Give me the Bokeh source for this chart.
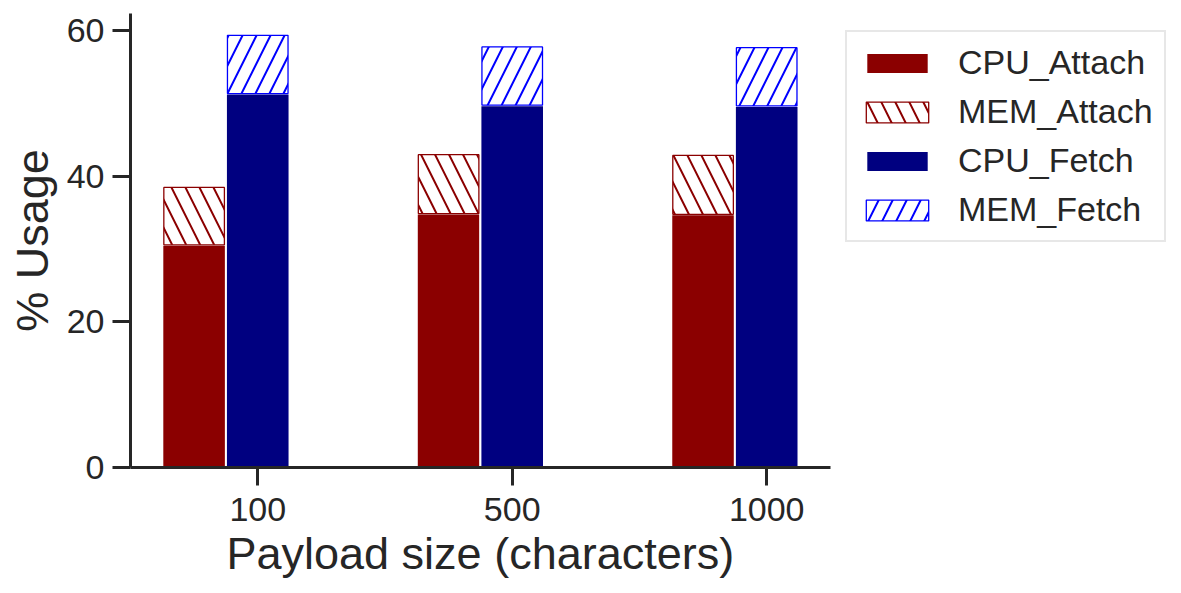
import numpy as np
from bokeh.plotting import figure
from bokeh.models import ColumnDataSource, Legend, LegendItem, Range1d, FixedTicker, Title
from bokeh.embed import file_html
from bokeh.resources import INLINE

# Payload sizes and stacked usage (%) per operation
sizes = ["100", "500", "1000"]
cpu_attach = [30.6, 34.9, 34.8]
mem_attach = [7.9, 8.1, 8.1]
cpu_fetch = [51.4, 49.8, 49.7]
mem_fetch = [8.0, 8.0, 8.0]

BAR_W = 0.25
pos = np.arange(len(sizes))

src = ColumnDataSource(dict(
    x_att=pos - BAR_W,
    x_fet=pos,
    cpu_a=cpu_attach,
    mem_a_top=np.add(cpu_attach, mem_attach),
    cpu_f=cpu_fetch,
    mem_f_top=np.add(cpu_fetch, mem_fetch),
))

FONT = "Liberation Sans"
INK = "#262626"
RED = "#8b0000"
NAVY = "#000080"
BLUE = "#0000ff"

# data extent of the axes; the frame continues to the right to hold the legend
X_LO, X_HI = -0.5, 2.25
p = figure(width=1181, height=593, output_backend="svg", toolbar_location=None,
           x_range=Range1d(X_LO, 3.63), y_range=Range1d(0, 62.4),
           min_border_left=130, min_border_right=0,
           min_border_top=13, min_border_bottom=126)
p.outline_line_color = None
p.xgrid.visible = False
p.ygrid.visible = False
p.background_fill_color = "white"

r_cpu_a = p.vbar(x="x_att", bottom=0, top="cpu_a", width=BAR_W, source=src,
                 fill_color=RED, line_color="white", line_width=2)
r_cpu_f = p.vbar(x="x_fet", bottom=0, top="cpu_f", width=BAR_W, source=src,
                 fill_color=NAVY, line_color="white", line_width=2)
r_mem_a = p.vbar(x="x_att", bottom="cpu_a", top="mem_a_top", width=BAR_W * 0.952, source=src,
                 fill_color="white", hatch_pattern="\\", hatch_color=RED,
                 hatch_scale=28, hatch_weight=2, line_color=RED, line_width=1.3)
r_mem_f = p.vbar(x="x_fet", bottom="cpu_f", top="mem_f_top", width=BAR_W * 0.952, source=src,
                 fill_color="white", hatch_pattern="/", hatch_color=BLUE,
                 hatch_scale=28, hatch_weight=2, line_color=BLUE, line_width=1.3)

p.xaxis.ticker = FixedTicker(ticks=[float(i) for i in pos])
p.xaxis.major_label_overrides = {int(i): s for i, s in zip(pos, sizes)}
p.xaxis.bounds = (X_LO, X_HI)
p.yaxis.ticker = FixedTicker(ticks=[0, 20, 40, 60])
p.yaxis.axis_label = "% Usage"

for ax in (p.xaxis[0], p.yaxis[0]):
    ax.axis_line_width = 3
    ax.axis_line_color = INK
    ax.major_tick_line_width = 3
    ax.major_tick_line_color = INK
    ax.major_tick_out = 18
    ax.major_tick_in = 0
    ax.minor_tick_out = 0
    ax.minor_tick_in = 0
    ax.major_label_text_font = FONT
    ax.major_label_text_font_size = "34px"
    ax.major_label_text_color = INK
    ax.axis_label_text_font = FONT
    ax.axis_label_text_font_size = "45px"
    ax.axis_label_text_font_style = "normal"
    ax.axis_label_text_color = INK

p.xaxis.major_label_standoff = 12
p.yaxis.major_label_standoff = 8
p.yaxis.axis_label_standoff = 6

# x-axis title, centred under the bar area rather than the whole frame
p.add_layout(Title(text="Payload size (characters)", align="left", offset=96,
                   text_font=FONT, text_font_size="45px", text_font_style="normal",
                   text_color=INK, standoff=4), "below")

legend = Legend(
    items=[
        LegendItem(label="CPU_Attach", renderers=[r_cpu_a]),
        LegendItem(label="MEM_Attach", renderers=[r_mem_a]),
        LegendItem(label="CPU_Fetch", renderers=[r_cpu_f]),
        LegendItem(label="MEM_Fetch", renderers=[r_mem_f]),
    ],
    location=(715, 225), orientation="vertical",
    label_text_font=FONT, label_text_font_size="34px", label_text_color=INK,
    glyph_width=78, glyph_height=26, label_standoff=22, spacing=10,
    padding=11, margin=0, border_line_color="#d0d0d0", border_line_width=2,
    background_fill_color="white", background_fill_alpha=1.0,
)
p.add_layout(legend, "center")

open("out.html", "w").write(file_html(p, INLINE))
